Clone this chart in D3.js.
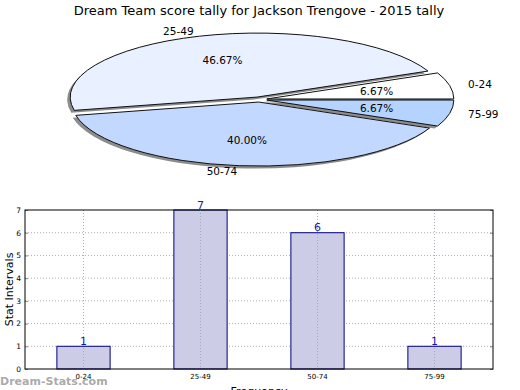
<!DOCTYPE html>
<html>
<head>
<meta charset="utf-8">
<script src="https://cdn.jsdelivr.net/npm/d3@7"></script>
<style>
  html, body { margin: 0; padding: 0; background: #fff; }
  svg { display: block; font-family: "DejaVu Sans", sans-serif; }
</style>
</head>
<body>
<svg id="chart" width="520" height="390"></svg>
<script>
const title = "Dream Team score tally for Jackson Trengove - 2015 tally";
const categories = ["0-24", "25-49", "50-74", "75-99"];
const counts = [1, 7, 6, 1];
const percentLabels = ["6.67%", "46.67%", "40.00%", "6.67%"];
const sliceColors = ["#ffffff", "#e9f0ff", "#c3d8ff", "#b5d3ff"];
const yTicks = [0, 1, 2, 3, 4, 5, 6, 7];
const yLabel = "Stat Intervals";
const xLabel = "Frequency";
const watermark = "Dream-Stats.com";

const svg = d3.select("#chart");

// Title
svg.append("text").attr("x", 259).attr("y", 15).attr("text-anchor", "middle")
  .attr("font-size", 13).attr("fill", "#000").text(title);

// ---------- Pie ----------
const cx = 259.5, cy = 99.5, rx = 187, ry = 64;
const pie = d3.pie().sort(null).value(d => d)
  .startAngle(Math.PI / 2).endAngle(Math.PI / 2 - 2 * Math.PI);
const arcs = pie(counts);

function pt(a, fx, fy) { return [fx * Math.sin(a), -fy * Math.cos(a)]; }
function slicePath(d, ox, oy) {
  const x0 = cx + ox, y0 = cy + oy;
  const p0 = pt(d.startAngle, rx, ry), p1 = pt(d.endAngle, rx, ry);
  const span = Math.abs(d.endAngle - d.startAngle);
  const large = span > Math.PI ? 1 : 0;
  return `M${x0},${y0}L${x0 + p0[0]},${y0 + p0[1]}A${rx},${ry} 0 ${large} 0 ${x0 + p1[0]},${y0 + p1[1]}Z`;
}
const pieG = svg.append("g");
const explode = 0.04;
arcs.forEach((d, i) => {
  const m = (d.startAngle + d.endAngle) / 2;
  d.off = pt(m, explode * rx, explode * ry);
  d.mid = m;
});
// shadows
pieG.selectAll("path.shadow").data(arcs).join("path").attr("class", "shadow")
  .attr("d", d => slicePath(d, d.off[0] - 3, d.off[1] + 2.5))
  .attr("fill", "#8c8c8c").attr("stroke", "none");
// slices
pieG.selectAll("path.slice").data(arcs).join("path").attr("class", "slice")
  .attr("d", d => slicePath(d, d.off[0], d.off[1]))
  .attr("fill", (d, i) => sliceColors[i]).attr("stroke", "#111").attr("stroke-width", 1);
// percent labels
pieG.selectAll("text.pct").data(arcs).join("text").attr("class", "pct")
  .attr("x", d => cx + pt(d.mid, 0.64 * rx, 0.64 * ry)[0])
  .attr("y", d => cy + pt(d.mid, 0.64 * rx, 0.64 * ry)[1])
  .attr("dy", "0.35em").attr("text-anchor", "middle").attr("font-size", 10.5)
  .text((d, i) => percentLabels[i]);
// category labels
pieG.selectAll("text.cat").data(arcs).join("text").attr("class", "cat")
  .attr("x", d => cx + pt(d.mid, 1.14 * rx, 1.125 * ry)[0])
  .attr("y", d => cy + pt(d.mid, 1.14 * rx, 1.125 * ry)[1])
  .attr("dy", "0.35em")
  .attr("text-anchor", d => Math.sin(d.mid) >= 0 ? "start" : "end")
  .attr("font-size", 10.5)
  .text((d, i) => categories[i]);

// ---------- Bar chart ----------
const L = 25, R = 493, T = 210, B = 369;
const x = d3.scaleBand().domain(categories).range([L, R]).padding(0);
const y = d3.scaleLinear().domain([0, 7]).range([B, T]);
const barW = x.bandwidth() * 0.455;
const bg = svg.append("g");

// grid
bg.selectAll("line.hg").data(yTicks.slice(1, -1)).join("line")
  .attr("x1", L).attr("x2", R).attr("y1", d => y(d)).attr("y2", d => y(d))
  .attr("stroke", "#b0b0b0").attr("stroke-dasharray", "1,2");
bg.selectAll("line.vg").data(categories).join("line")
  .attr("x1", d => x(d) + x.bandwidth() / 2).attr("x2", d => x(d) + x.bandwidth() / 2)
  .attr("y1", T).attr("y2", B)
  .attr("stroke", "#b0b0b0").attr("stroke-dasharray", "1,2");

// bars
bg.selectAll("rect.bar").data(counts).join("rect")
  .attr("x", (d, i) => x(categories[i]) + (x.bandwidth() - barW) / 2)
  .attr("y", d => y(d)).attr("width", barW).attr("height", d => B - y(d))
  .attr("fill", "#cccce6").attr("stroke", "#000080").attr("stroke-width", 1);
// redraw vertical grid over bars (dotted visible on bars)
bg.selectAll("line.vg2").data(categories).join("line")
  .attr("x1", d => x(d) + x.bandwidth() / 2).attr("x2", d => x(d) + x.bandwidth() / 2)
  .attr("y1", T).attr("y2", B)
  .attr("stroke", "#a8a8b8").attr("stroke-dasharray", "1,2");

// value labels
bg.selectAll("text.val").data(counts).join("text")
  .attr("x", (d, i) => x(categories[i]) + x.bandwidth() / 2)
  .attr("y", d => y(d) - 1.5).attr("text-anchor", "middle")
  .attr("font-size", 11).attr("fill", "#1a1aa0").text(d => d);

// axes
const yAxis = d3.axisLeft(y).tickValues(yTicks).tickSize(-3).tickPadding(4).tickFormat(d3.format("d"));
const yg = bg.append("g").attr("transform", `translate(${L},0)`).call(yAxis);
yg.select(".domain").remove();
yg.selectAll("line").attr("stroke", "#888");
yg.selectAll("text").attr("font-size", 7.5).attr("font-family", "DejaVu Sans").attr("fill", "#000");
const yAxisR = d3.axisRight(y).tickValues(yTicks).tickSize(-3).tickFormat("");
const ygr = bg.append("g").attr("transform", `translate(${R},0)`).call(yAxisR);
ygr.select(".domain").remove();
ygr.selectAll("line").attr("stroke", "#888");

const xAxis = d3.axisBottom(x).tickSize(0).tickPadding(5);
const xg = bg.append("g").attr("transform", `translate(0,${B})`).call(xAxis);
xg.select(".domain").remove();
xg.selectAll("text").attr("font-size", 7).attr("font-family", "DejaVu Sans").attr("fill", "#000");

// frame
bg.append("rect").attr("x", L).attr("y", T).attr("width", R - L).attr("height", B - T)
  .attr("fill", "none").attr("stroke", "#000").attr("stroke-width", 1);

// axis titles
svg.append("text").attr("transform", `translate(13,${(T + B) / 2}) rotate(-90)`)
  .attr("text-anchor", "middle").attr("font-size", 11).text(yLabel);
svg.append("text").attr("x", 259).attr("y", 395).attr("text-anchor", "middle")
  .attr("font-size", 11).text(xLabel);

// watermark
svg.append("text").attr("x", 0).attr("y", 385).attr("font-size", 11)
  .attr("font-weight", "bold").attr("fill", "#a0a0a0").attr("fill-opacity", 0.9).text(watermark);
</script>
</body>
</html>
